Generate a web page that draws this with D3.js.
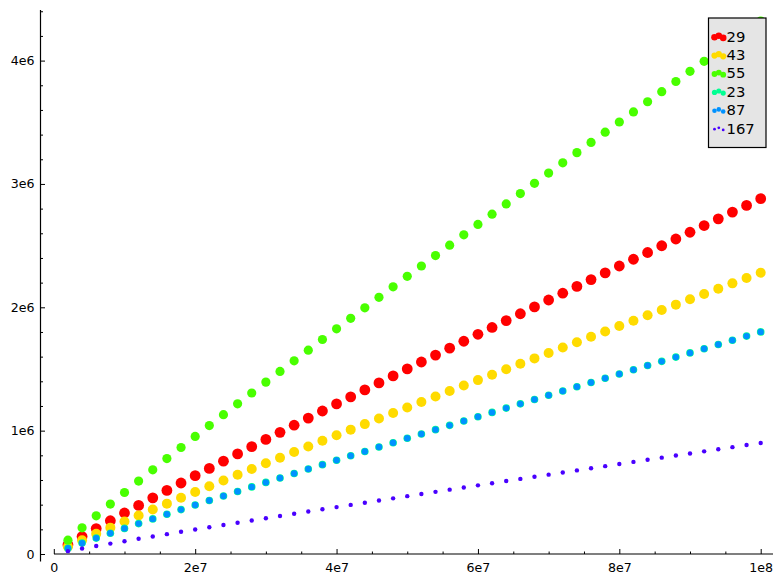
<!DOCTYPE html>
<html>
<head>
<meta charset="utf-8">
<script src="https://cdn.jsdelivr.net/npm/d3@7"></script>
<style>
  html, body { margin: 0; padding: 0; background: #ffffff; }
  svg { display: block; font-family: "DejaVu Sans", sans-serif; }
</style>
</head>
<body>
<svg id="chart" width="783" height="584"></svg>
<script>
// ---- data ----
const xValues = [2e6,4e6,6e6,8e6,1e7,1.2e7,1.4e7,1.6e7,1.8e7,2e7,2.2e7,2.4e7,2.6e7,2.8e7,3e7,3.2e7,3.4e7,3.6e7,3.8e7,4e7,
  4.2e7,4.4e7,4.6e7,4.8e7,5e7,5.2e7,5.4e7,5.6e7,5.8e7,6e7,6.2e7,6.4e7,6.6e7,6.8e7,7e7,7.2e7,7.4e7,7.6e7,7.8e7,8e7,
  8.2e7,8.4e7,8.6e7,8.8e7,9e7,9.2e7,9.4e7,9.6e7,9.8e7,1e8];

const seriesNames = ["29", "43", "55", "23", "87", "167"];
const seriesColors = ["#ff0000", "#ffdb00", "#49ff00", "#00ff92", "#0092ff", "#4900ff"];

const values29 = [74467,141573,206425,269889,332290,394030,455039,515565,575600,635304,694029,752754,811479,870205,928930,
  986509,1044089,1101668,1159248,1216827,1273575,1330323,1387071,1443819,1500567,1556665,1612763,1668861,1724959,1781058,
  1836653,1892248,1947843,2003438,2059032,2114164,2169296,2224428,2279560,2334691,2389448,2444205,2498962,2553719,2608477,
  2662927,2717377,2771827,2826277,2880728];
const values43 = [58948,112069,163406,213644,263040,311914,360208,408121,455645,502906,549393,595880,642367,688854,735341,
  780920,826500,872080,917660,963240,1008162,1053084,1098005,1142927,1187849,1232256,1276663,1321070,1365478,1409885,
  1453894,1497903,1541912,1585921,1629930,1673572,1717215,1760857,1804500,1848141,1891487,1934833,1978178,2021524,2064870,
  2107973,2151076,2194178,2237281,2280384];
const values55 = [111700,212360,309637,404833,498434,591045,682558,773348,863400,952955,1041043,1129131,1217219,1305307,1393394,
  1479764,1566133,1652502,1738871,1825241,1910363,1995485,2080607,2165729,2250851,2334998,2419145,2503292,2587439,2671586,
  2754979,2838371,2921764,3005156,3088548,3171246,3253944,3336642,3419340,3502037,3584172,3666308,3748443,3830579,3912716,
  3994391,4076066,4157741,4239416,4321091];
const values23 = [46542,88483,129015,168680,207681,246269,284399,322228,359750,397065,433768,470471,507174,543878,580581,
  616568,652555,688543,724530,760517,795984,831452,866919,902387,937854,972916,1007977,1043038,1078099,1113161,
  1147908,1182655,1217402,1252148,1286895,1321353,1355810,1390268,1424725,1459182,1493405,1527628,1561851,1596074,1630298,
  1664329,1698361,1732392,1766423,1800455];
const values87 = [46542,88483,129015,168680,207681,246269,284399,322228,359750,397065,433768,470471,507174,543878,580581,
  616568,652555,688543,724530,760517,795984,831452,866919,902387,937854,972916,1007977,1043038,1078099,1113161,
  1147908,1182655,1217402,1252148,1286895,1321353,1355810,1390268,1424725,1459182,1493405,1527628,1561851,1596074,1630298,
  1664329,1698361,1732392,1766423,1800455];
const values167 = [23271,44242,64508,84340,103840,123134,142200,161114,179875,198532,216884,235236,253587,271939,290290,
  308284,326278,344271,362265,380259,397992,415726,433460,451193,468927,486458,503989,521519,539050,556580,
  573954,591327,608701,626074,643448,660676,677905,695134,712362,729591,746703,763814,780926,798037,815149,
  832165,849180,866196,883212,900227];

const xTickValues = [0, 2e7, 4e7, 6e7, 8e7, 1e8];
const xTickLabels = ["0", "2e7", "4e7", "6e7", "8e7", "1e8"];
const yTickValues = [0, 1e6, 2e6, 3e6, 4e6];
const yTickLabels = ["0", "1e6", "2e6", "3e6", "4e6"];

// ---- layout ----
const seriesValues = [values29, values43, values55, values23, values87, values167];
const markerR = [5.4, 5.0, 4.6, 3.8, 3.2, 2.2];
const legendR = [3.3, 3.1, 2.9, 2.6, 2.3, 1.4];

const svg = d3.select("#chart");
const x = d3.scaleLinear().domain([0, 1e8]).range([53.8, 760.7]);
const y = d3.scaleLinear().domain([0, 4e6]).range([554, 60.6]);

const axisX = 40.5, axisY = 554;

// minor ticks
const minorX = d3.range(0, 1.0301e8, 5e6).filter(v => xTickValues.indexOf(v) < 0 && x(v) < 773);
const minorY = d3.range(0, 4.41e6, 2e5).filter(v => v % 1e6 !== 0 && y(v) > 10);

const gx = svg.append("g").attr("transform", `translate(0,${axisY})`)
  .call(d3.axisBottom(x).tickValues(xTickValues).tickFormat((d, i) => xTickLabels[i]).tickSize(-5).tickPadding(9));
const gxm = svg.append("g").attr("transform", `translate(0,${axisY})`)
  .call(d3.axisBottom(x).tickValues(minorX).tickFormat("").tickSize(-2.5));
const gy = svg.append("g").attr("transform", `translate(${axisX},0)`)
  .call(d3.axisLeft(y).tickValues(yTickValues).tickFormat((d, i) => yTickLabels[i]).tickSize(-4.5).tickPadding(6));
const gym = svg.append("g").attr("transform", `translate(${axisX},0)`)
  .call(d3.axisLeft(y).tickValues(minorY).tickFormat("").tickSize(-2.5));

[gx, gxm, gy, gym].forEach(g => {
  g.select(".domain").remove();
  g.selectAll(".tick line").attr("stroke", "#000").attr("stroke-width", 1);
  g.selectAll(".tick text").attr("fill", "#000").attr("font-size", "12.6px")
    .attr("font-family", "DejaVu Sans, sans-serif");
});

// axis lines
svg.append("line").attr("x1", 54).attr("x2", 773).attr("y1", axisY).attr("y2", axisY)
  .attr("stroke", "#000").attr("stroke-width", 1.2);
svg.append("line").attr("x1", axisX).attr("x2", axisX).attr("y1", 10).attr("y2", 561.5)
  .attr("stroke", "#000").attr("stroke-width", 1.2);

// points
seriesValues.forEach((vals, si) => {
  svg.append("g").selectAll("circle")
    .data(vals.map((v, i) => [xValues[i], v]))
    .join("circle")
    .attr("cx", d => x(d[0]))
    .attr("cy", d => y(d[1]))
    .attr("r", markerR[si])
    .attr("fill", seriesColors[si]);
});

// legend
const lg = svg.append("g");
lg.append("rect").attr("x", 708.5).attr("y", 18).attr("width", 57.5).attr("height", 129.5)
  .attr("fill", "#e5e5e5").attr("stroke", "#000").attr("stroke-width", 1.2);
const dotDx = [714.5, 718.8, 723.2];
const dotDy = [1.2, -0.2, 1.9];
seriesNames.forEach((name, i) => {
  const cy = 36 + i * 18.4;
  dotDx.forEach((dx, k) => {
    lg.append("circle").attr("cx", dx).attr("cy", cy + dotDy[k]).attr("r", legendR[i]).attr("fill", seriesColors[i]);
  });
  lg.append("text").attr("x", 726.5).attr("y", cy + 5.5).attr("font-size", "14.8px")
    .attr("fill", "#000").text(name);
});
</script>
</body>
</html>
